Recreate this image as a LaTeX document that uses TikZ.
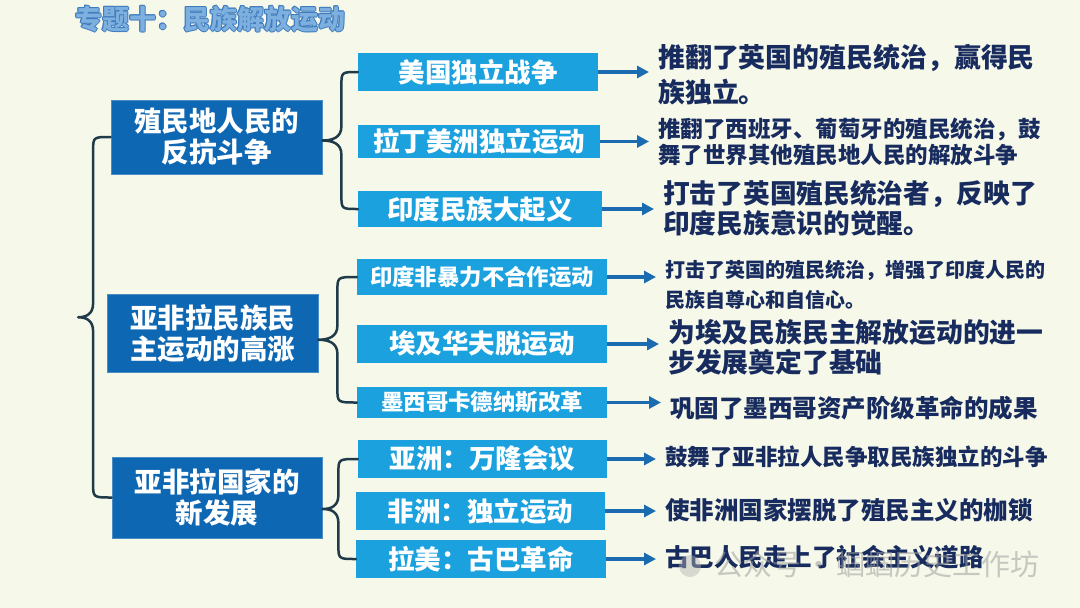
\documentclass[tikz,border=0pt]{standalone}
\usepackage{fontspec}
\setmainfont{Noto Sans CJK SC}
\usetikzlibrary{arrows.meta,calc}
\definecolor{bg}{HTML}{F6F8E9}
\definecolor{dkbox}{HTML}{0E67B2}
\definecolor{ltbox}{HTML}{1BA1DE}
\definecolor{navy}{HTML}{172B5E}
\definecolor{arrc}{HTML}{1A6BB0}
\definecolor{brc}{HTML}{1F3A48}
\definecolor{ttl}{HTML}{7DB0DE}
\definecolor{ttledge}{HTML}{3F7CBE}
\begin{document}
\begin{tikzpicture}[x=1pt,y=-1pt,
  mainbox/.style={fill=dkbox, draw=dkbox!75!white, line width=0.8pt, text=white,
    font=\bfseries\fontsize{27.5}{31}\selectfont, align=center, inner sep=0pt},
  subbox/.style={fill=ltbox, text=white, inner sep=0pt, minimum width=250pt,
    font=\bfseries\fontsize{26.5}{30}\selectfont},
  smallsub/.style={subbox, font=\bfseries\fontsize{22.4}{26}\selectfont},
  result/.style={text=navy, anchor=west, align=left, inner sep=0pt},
  arr/.style={draw=arrc, line width=3.5pt, -{Triangle[length=12pt,width=12pt]}, shorten >=9pt},
  brace/.style={draw=brc, line width=2.5pt, line cap=round, line join=round},
  titlefont/.style={font=\bfseries\fontsize{27}{30}\selectfont, anchor=west, inner sep=0pt}]
\fill[bg] (0,0) rectangle (1080,608);
\useasboundingbox (0,0) rectangle (1080,608);

% title (outlined look)
\foreach \dx/\dy in {-0.9/0,0.9/0,0/-0.9,0/0.9,-0.65/-0.65,0.65/0.65,-0.65/0.65,0.65/-0.65} {
  \node[titlefont, text=ttledge] at ($(75,19)+(\dx,\dy)$) {专题十：民族解放运动};
}
\node[titlefont, text=ttl] (title) at (75,19) {专题十：民族解放运动};

% main boxes
\node[mainbox, minimum width=211pt, minimum height=74pt] (b1) at (216.5,137) {殖民地人民的\\反抗斗争};
\node[mainbox, minimum width=211pt, minimum height=78pt] (b2) at (212.5,333) {亚非拉民族民\\主运动的高涨};
\node[mainbox, minimum width=210pt, minimum height=81pt] (b3) at (217,497.5) {亚非拉国家的\\新发展};

% sub boxes
\node[subbox, minimum width=240pt, minimum height=38pt] (m1) at (478,72) {美国独立战争};
\node[subbox, minimum width=242pt, minimum height=33pt] (m2) at (479,141.5) {拉丁美洲独立运动};
\node[subbox, minimum width=244pt, minimum height=36pt] (m3) at (480,209) {印度民族大起义};
\node[smallsub, minimum height=36pt] (m4) at (482,277) {印度非暴力不合作运动};
\node[subbox, minimum height=38pt] (m5) at (482,344) {埃及华夫脱运动};
\node[smallsub, minimum height=31pt] (m6) at (482,402.5) {墨西哥卡德纳斯改革};
\node[subbox, minimum width=249pt, minimum height=38pt] (m7) at (482.5,459) {亚洲：万隆会议};
\node[subbox, minimum width=249pt, minimum height=38pt] (m8) at (480.5,511) {非洲：独立运动};
\node[subbox, minimum height=38pt] (m9) at (481,559) {拉美：古巴革命};

% results
\node[result, font=\bfseries\fontsize{26.9}{35}\selectfont] (r1) at (658,74.5) {推翻了英国的殖民统治，赢得民\\族独立。};
\node[result, font=\bfseries\fontsize{22.5}{26}\selectfont] (r2) at (658,142) {推翻了西班牙、葡萄牙的殖民统治，鼓\\舞了世界其他殖民地人民的解放斗争};
\node[result, font=\bfseries\fontsize{26.7}{30}\selectfont] (r3) at (663,208) {打击了英国殖民统治者，反映了\\印度民族意识的觉醒。};
\node[result, font=\bfseries\fontsize{20}{30}\selectfont] (r4) at (665,285) {打击了英国的殖民统治，增强了印度人民的\\民族自尊心和自信心。};
\node[result, font=\bfseries\fontsize{26.8}{30}\selectfont] (r5) at (668,347) {为埃及民族民主解放运动的进一\\步发展奠定了基础};
\node[result, font=\bfseries\fontsize{24.5}{28}\selectfont] (r6) at (670,408) {巩固了墨西哥资产阶级革命的成果};
\node[result, font=\bfseries\fontsize{22.5}{26}\selectfont] (r7) at (665,457) {鼓舞了亚非拉人民争取民族独立的斗争};
\node[result, font=\bfseries\fontsize{24.5}{28}\selectfont] (r8) at (665,510) {使非洲国家摆脱了殖民主义的枷锁};
\node[result, font=\bfseries\fontsize{24.5}{28}\selectfont] (r9) at (665,557) {古巴人民走上了社会主义道路};

% arrows
\foreach \i in {1,...,9} {
  \draw[arr] (m\i.east) -- (m\i.east -| r\i.west);
}

% left brace
\coordinate (tip0) at ($(b1.west)!0.5!(b3.west)+(-33,0)$);
\draw[brace] (b1.west) .. controls ($(tip0 |- b1.west)+(15,0)$) .. ($(tip0 |- b1.west)+(15,14)$)
  -- ($(tip0)+(15,-14)$) .. controls ($(tip0)+(15,-3)$) and ($(tip0)+(8,0)$) .. (tip0)
  .. controls ($(tip0)+(8,0)$) and ($(tip0)+(15,3)$) .. ($(tip0)+(15,14)$)
  -- ($(tip0 |- b3.west)+(15,-14)$) .. controls ($(tip0 |- b3.west)+(15,0)$) .. (b3.west);

% middle braces
\path ($(m1.west)!0.5!(m3.west)$) coordinate (mid1);
\coordinate (tip1) at (b1.east |- mid1);
\path ($(m4.west)!0.5!(m6.west)$) coordinate (mid2);
\coordinate (tip2) at (b2.east |- mid2);
\path ($(m7.west)!0.5!(m9.west)$) coordinate (mid3);
\coordinate (tip3) at (b3.east |- mid3);

\draw[brace] (m1.west) .. controls ($(tip1 |- m1.west)+(19,0)$) .. ($(tip1 |- m1.west)+(19,14)$)
  -- ($(tip1)+(19,-14)$) .. controls ($(tip1)+(19,-3)$) and ($(tip1)+(10,0)$) .. (tip1)
  .. controls ($(tip1)+(10,0)$) and ($(tip1)+(19,3)$) .. ($(tip1)+(19,14)$)
  -- ($(tip1 |- m3.west)+(19,-14)$) .. controls ($(tip1 |- m3.west)+(19,0)$) .. (m3.west);

\draw[brace] (m4.west) .. controls ($(tip2 |- m4.west)+(19,0)$) .. ($(tip2 |- m4.west)+(19,14)$)
  -- ($(tip2)+(19,-14)$) .. controls ($(tip2)+(19,-3)$) and ($(tip2)+(10,0)$) .. (tip2)
  .. controls ($(tip2)+(10,0)$) and ($(tip2)+(19,3)$) .. ($(tip2)+(19,14)$)
  -- ($(tip2 |- m6.west)+(19,-14)$) .. controls ($(tip2 |- m6.west)+(19,0)$) .. (m6.west);

\draw[brace] (m7.west) .. controls ($(tip3 |- m7.west)+(16,0)$) .. ($(tip3 |- m7.west)+(16,14)$)
  -- ($(tip3)+(16,-14)$) .. controls ($(tip3)+(16,-3)$) and ($(tip3)+(9,0)$) .. (tip3)
  .. controls ($(tip3)+(9,0)$) and ($(tip3)+(16,3)$) .. ($(tip3)+(16,14)$)
  -- ($(tip3 |- m9.west)+(16,-14)$) .. controls ($(tip3 |- m9.west)+(16,0)$) .. (m9.west);

% watermark
\fill[gray!60, opacity=0.45] (690,566) circle (11pt);
\node[text=gray!75, opacity=0.55, font=\fontsize{29}{30}\selectfont, anchor=west, inner sep=0pt] (wm) at (714,564) {公众号\hspace{3pt}·\hspace{3pt}蝈蝈历史工作坊};
\end{tikzpicture}
\end{document}
